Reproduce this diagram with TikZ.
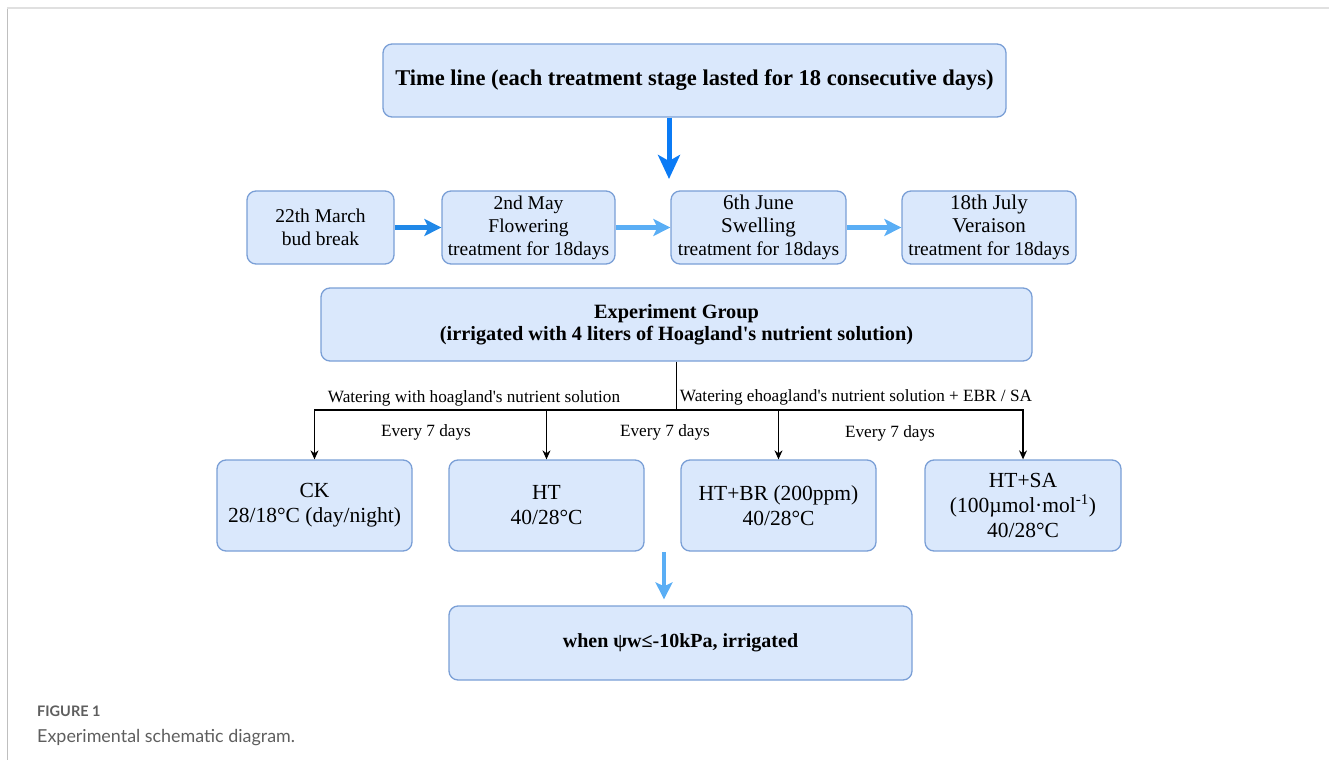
\documentclass[tikz,border=0pt]{standalone}
\usepackage{fontspec}
\setmainfont{Liberation Serif}
\newfontfamily\capfont{Lato}
\usetikzlibrary{arrows.meta}
\definecolor{boxfill}{HTML}{DAE8FC}
\definecolor{boxline}{HTML}{7A9FD6}
\definecolor{arrowA}{HTML}{0B7BF5}
\definecolor{arrowB}{HTML}{2088E8}
\definecolor{arrowC}{HTML}{5AAEF5}
\definecolor{capgray}{HTML}{5E5E5E}
\begin{document}
\begin{tikzpicture}[x=1pt,y=-1pt,
  box/.style={draw=boxline, fill=boxfill, rounded corners=9pt, line width=1.3pt, align=center, inner sep=0pt},
  rowbox/.style={box, minimum width=#1, minimum height=73pt, font=\fontsize{19.5}{23}\selectfont},
  trtbox/.style={box, minimum width=195pt, minimum height=91pt, font=\fontsize{21.5}{25}\selectfont},
  conn/.style={draw=black, line width=1.2pt, -{Stealth[length=9pt,width=8pt]}},
  lbl/.style={font=\fontsize{17.2}{19}\selectfont, inner sep=0pt},
  bluearrow/.style={draw=#1, line width=4.5pt, -{Stealth[length=17pt,width=17pt,inset=4pt]}},
  bigarrow/.style={draw=arrowA, line width=5pt, -{Stealth[length=24pt,width=22pt,inset=6pt]}}
]
\useasboundingbox (0,0) rectangle (1329,767);
% frame
\draw[line width=2pt, black!12] (7,8.5) -- (1329,8.5);
\draw[line width=1.2pt, black!25] (7.5,9) -- (7.5,760);

% title
\node[box, minimum width=623pt, minimum height=73pt, font=\fontsize{22.5}{26}\selectfont\bfseries] (title) at (694.5,80.5) {Time line (each treatment stage lasted for 18 consecutive days)};

% timeline row
\node[rowbox=147pt] (r1) at (320.5,227.5) {22th March\\bud break};
\node[rowbox=173pt] (r2) at (528.5,227.5) {2nd May\\Flowering\\treatment for 18days};
\node[rowbox=175pt] (r3) at (758.5,227.5) {{\fontsize{21}{23}\selectfont 6th June}\\{\fontsize{21}{26}\selectfont Swelling}\\treatment for 18days};
\node[rowbox=174pt] (r4) at (989,227.5) {{\fontsize{21}{23}\selectfont 18th July}\\{\fontsize{21}{26}\selectfont Veraison}\\treatment for 18days};

\coordinate (tA) at (669,179);
\draw[bigarrow] (title.south -| tA) -- (tA);
\draw[bluearrow=arrowB] (r1.east) -- (r2.west);
\draw[bluearrow=arrowC] (r2.east) -- (r3.west);
\draw[bluearrow=arrowC] (r3.east) -- (r4.west);

% experiment group
\node[box, minimum width=711pt, minimum height=73pt, font=\fontsize{20.3}{22}\selectfont\bfseries] (exp) at (676.5,324.5) {Experiment Group\\(irrigated with 4 liters of Hoagland\textquotesingle s nutrient solution)};

% treatments
\node[trtbox] (ck) at (314.5,505.5) {CK\\28/18\textdegree C (day/night)};
\node[trtbox] (ht) at (546.5,505.5) {HT\\40/28\textdegree C};
\node[trtbox] (br) at (778.5,505.5) {HT+BR (200ppm)\\40/28\textdegree C};
\node[trtbox, minimum width=196pt] (sa) at (1023,505.5) {HT+SA\\(100µmol·mol\textsuperscript{-1})\\40/28\textdegree C};

\coordinate (j) at (676.5,410);
\draw[line width=1.2pt] (exp.south) -- (j);
\draw[conn] (j) -| (ck.north);
\draw[conn] (j) -| (ht.north);
\draw[conn] (j) -| (br.north);
\draw[conn] (j) -| (sa.north);

\node[lbl] (w1) at (474,398) {Watering with hoagland\textquotesingle s nutrient solution};
\node[lbl] (w2) at (856,397) {Watering ehoagland\textquotesingle s nutrient solution + EBR / SA};
\node[lbl] (e1) at (426,432) {Every 7 days};
\node[lbl] (e2) at (665,432) {Every 7 days};
\node[lbl] (e3) at (890,433) {Every 7 days};

% final
\node[box, minimum width=463pt, minimum height=74pt, font=\fontsize{20}{24}\selectfont\bfseries] (fin) at (680.5,643) {when ψw≤-10kPa, irrigated};
\coordinate (a0) at (664,552);
\draw[bluearrow=arrowC] (a0) -- ([yshift=6pt]fin.north -| a0);

% caption
\node[anchor=west, inner sep=0pt, text=capgray, font=\capfont\bfseries\fontsize{14.5}{16}\selectfont] (cap1) at (37,711) {FIGURE 1};
\node[anchor=west, inner sep=0pt, text=capgray, font=\capfont\fontsize{17.9}{22}\selectfont] (cap2) at (37,738) {Experimental schematic diagram.};
\end{tikzpicture}
\end{document}
